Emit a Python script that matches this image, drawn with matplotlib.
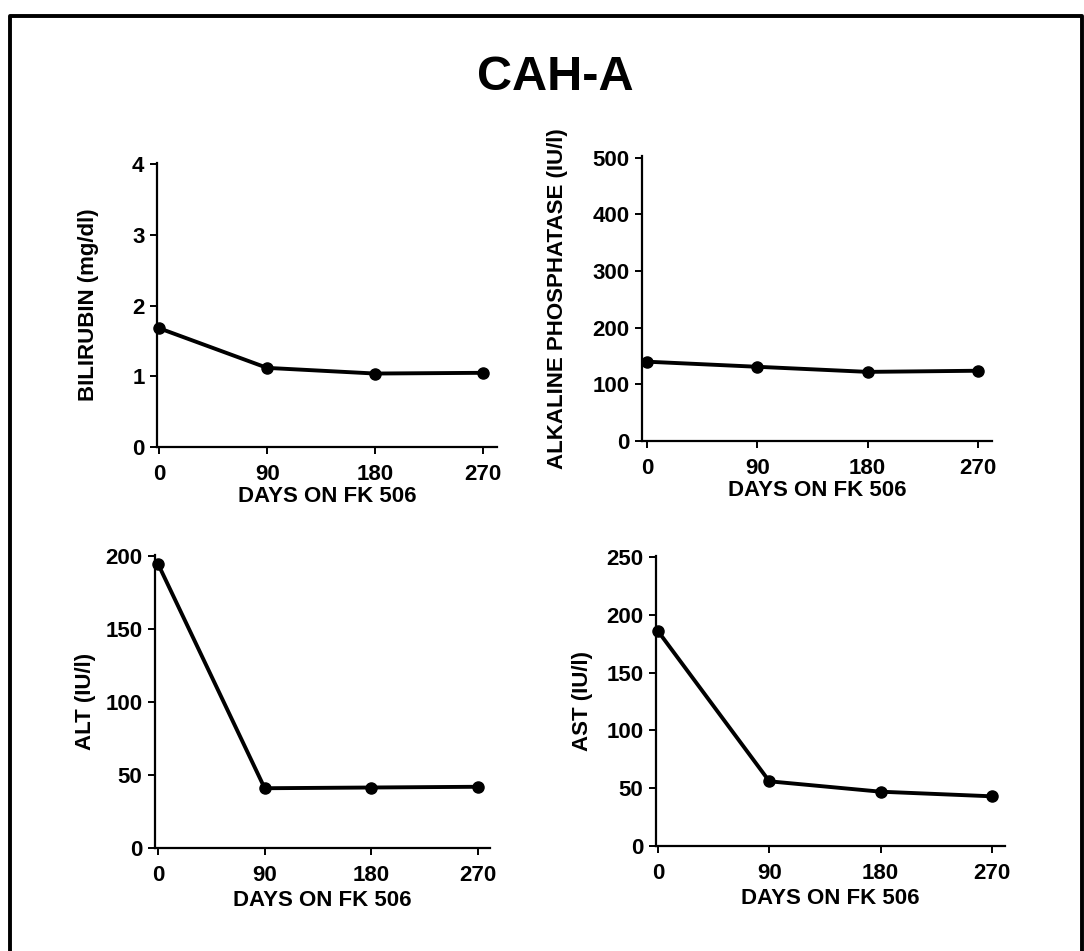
import matplotlib
matplotlib.use("Agg")
import matplotlib.pyplot as plt
from matplotlib.lines import Line2D

plt.rcParams["font.family"] = ["Liberation Sans", "DejaVu Sans"]
plt.rcParams["font.weight"] = "bold"

# data
days = [0, 90, 180, 270]
bilirubin = [1.68, 1.12, 1.04, 1.05]
alk_phos = [140, 131, 122, 124]
alt = [195, 41, 41.5, 42]
ast = [186, 56, 47, 43]

x_ticks = [0, 90, 180, 270]
x_label = "DAYS ON FK 506"
title = "CAH-A"

W, H = 1084, 951


def px_axes(fig, left, top, right, bottom):
    # axes box from pixel edges
    return fig.add_axes([left / W, 1 - bottom / H, (right - left) / W, (bottom - top) / H])


def draw_panel(ax, values, ylabel, yticks, ylim, xlim, ylab_x, xlab_pad=1):
    ax.plot(days, values, color="black", lw=2.8, marker="o", ms=8, clip_on=False, zorder=3)
    ax.set_xlim(*xlim)
    ax.set_ylim(*ylim)
    ax.set_xticks(x_ticks)
    ax.set_yticks(yticks)
    ax.spines["top"].set_visible(False)
    ax.spines["right"].set_visible(False)
    for s in ("left", "bottom"):
        ax.spines[s].set_linewidth(1.6)
    ax.tick_params(direction="out", length=5, width=1.4, labelsize=16, pad=4)
    ax.tick_params(axis="x", pad=7)
    for lab in ax.get_xticklabels() + ax.get_yticklabels():
        lab.set_fontweight("bold")
    ax.set_xlabel(x_label, fontsize=16, fontweight="bold", labelpad=xlab_pad)
    ax.set_ylabel(ylabel, fontsize=16, fontweight="bold")
    ax.yaxis.set_label_coords(ylab_x, 0.5)
    ax.set_facecolor("none")


fig = plt.figure(figsize=(W / 100, H / 100), dpi=100)

ax1 = px_axes(fig, 157, 163, 497, 447)
draw_panel(ax1, bilirubin, "BILIRUBIN (mg/dl)", [0, 1, 2, 3, 4], (0, 4.02), (-2, 282), -0.172)

ax2 = px_axes(fig, 642, 156, 992, 441)
draw_panel(ax2, alk_phos, "ALKALINE PHOSPHATASE (IU/l)", [0, 100, 200, 300, 400, 500], (0, 503), (-4, 281.5), -0.21)

ax3 = px_axes(fig, 155, 555, 490, 848)
draw_panel(ax3, alt, "ALT (IU/l)", [0, 50, 100, 150, 200], (0, 201), (-2.5, 280), -0.175, xlab_pad=3)

ax4 = px_axes(fig, 656, 556, 1005, 846)
draw_panel(ax4, ast, "AST (IU/l)", [0, 50, 100, 150, 200, 250], (0, 251), (-1.6, 280.5), -0.18, xlab_pad=3)

fig.text(555 / W, 1 - 77 / H, title, fontsize=35, fontweight="bold", ha="center", va="center")

# page frame (bottom edge is off the scan)
frame_x = [10 / W, 10 / W, 1082 / W, 1082 / W]
frame_y = [0, 1 - 16 / H, 1 - 16 / H, 0]
fig.add_artist(Line2D(frame_x, frame_y, transform=fig.transFigure, color="black", lw=2.8))

fig.savefig("out.png", dpi=100)
